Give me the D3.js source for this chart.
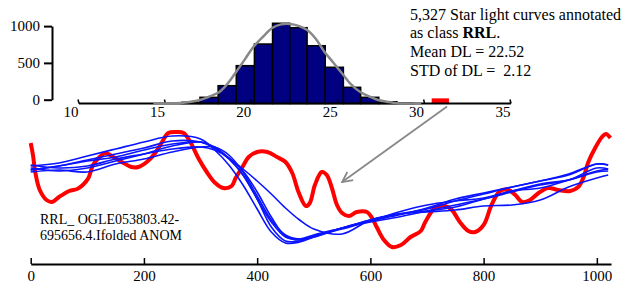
<!DOCTYPE html>
<html>
<head>
<meta charset="utf-8">
<script src="https://cdn.jsdelivr.net/npm/d3@7"></script>
<style>
  body { margin: 0; background: #fff; }
</style>
</head>
<body>
<div id="chart"></div>
<script>
// Histogram of DL values (bin edges in DL units, counts per bin)
const binEdges = [15.95, 17.0, 18.05, 19.1, 20.15, 21.2, 22.2, 23.2, 24.25, 25.3, 26.3, 27.35, 28.4, 29.35];
const binCounts = [16, 84, 242, 514, 808, 1090, 1030, 785, 492, 220, 84, 24, 7];
// the selected curve's bin, drawn in red
const selectedBin = [30.41, 31.41];
const selectedCount = 70;

// fitted normal curve
const fitDL    = [14.3, 15.0, 15.9, 16.4, 17.0, 17.5, 18.1, 18.6, 19.1, 19.6, 20.1, 20.7, 21.2, 21.7, 22.2, 22.7, 23.2, 23.7, 24.2, 24.7, 25.3, 25.7, 26.3, 26.8, 27.3, 27.8, 28.4, 29.8];
const fitCount = [0, 1, 7, 20, 48, 90, 152, 270, 432, 600, 772, 920, 1030, 1075, 1080, 1055, 999, 880, 704, 560, 387, 270, 152, 95, 48, 25, 3, 0];

const histXTicks = [10, 15, 20, 25, 30, 35];
const histYTicks = [0, 500, 1000];

const noteLines = ["5,327 Star light curves annotated", "as class |RRL|.", "Mean DL = 22.52", "STD of DL =  2.12"];

// Folded light curves
const redPhase = [0, 4, 8, 16, 28, 38, 50, 68, 82, 92, 102, 110, 120, 132, 143, 161, 178, 190, 205, 220, 232, 243, 258, 270, 282, 296, 311, 326, 340, 355, 362, 374, 385, 400, 418, 435, 450, 462, 473, 486, 493, 502, 514, 523, 532, 541, 550, 562, 576, 594, 603, 612, 624, 638, 654, 671, 689, 697, 714, 732, 744, 758, 773, 785, 800, 814, 829, 844, 856, 868, 882, 897, 914, 932, 953, 967, 976, 985, 997, 1009, 1016, 1024];
const redAnom  = [5.2, 4.0, 2.3, 0.5, -0.5, -0.7, -0.2, 0.4, 0.6, 1.0, 1.7, 3.0, 3.7, 4.2, 3.9, 3.3, 2.8, 2.8, 3.3, 4.2, 5.3, 6.2, 6.3, 6.2, 5.3, 3.7, 2.3, 1.2, 0.7, 0.9, 1.7, 2.8, 3.8, 4.3, 4.3, 3.8, 3.3, 2.2, 0.3, -1.1, -0.8, 1.0, 2.3, 2.0, 0.7, -1.0, -1.8, -2.1, -1.7, -1.7, -2.3, -3.3, -4.5, -5.2, -5.0, -4.2, -3.6, -2.7, -1.3, -1.1, -1.5, -2.7, -3.6, -3.7, -3.0, -1.0, 0.4, 0.5, 0.0, -0.7, -0.5, 0.2, 0.7, 0.5, 0.4, 0.8, 1.7, 3.3, 4.7, 5.8, 6.1, 5.7];

const bluePhase = [0, 50, 100, 150, 200, 250, 300, 325, 350, 375, 400, 425, 450, 475, 500, 550, 600, 650, 700, 750, 800, 850, 900, 950, 1000, 1020];
const blueA = [2.9, 3.2, 3.9, 4.6, 5.3, 5.9, 5.6, 4.5, 3.0, 1.0, -1.4, -3.7, -4.8, -4.7, -4.2, -3.3, -2.5, -1.9, -1.4, -0.6, 0.1, 0.8, 1.4, 2.1, 3.1, 3.0];
const blueB = [2.5, 2.9, 3.5, 4.1, 4.7, 5.4, 5.3, 4.7, 3.6, 2.0, -0.4, -3.2, -4.6, -4.6, -4.1, -3.4, -2.6, -2.0, -1.3, -0.4, 0.2, 0.8, 1.4, 2.0, 3.1, 3.0];
const blueC = [2.7, 2.4, 2.7, 3.4, 4.1, 4.9, 5.3, 4.7, 3.7, 2.0, -0.4, -2.7, -4.2, -4.4, -4.0, -3.3, -2.6, -1.7, -1.0, -0.6, -0.3, 0.4, 1.1, 1.5, 2.3, 2.4];
const blueD = [2.3, 2.5, 2.3, 3.1, 3.6, 4.3, 4.8, 4.8, 4.0, 2.3, -0.1, -2.5, -4.0, -4.4, -4.2, -3.3, -2.5, -1.9, -1.6, -1.2, -0.4, 0.4, 0.7, 1.5, 2.4, 2.6];
const blueE = [3.0, 2.7, 2.9, 3.6, 4.1, 4.6, 4.8, 4.5, 3.7, 2.4, 0.3, -2.2, -4.1, -4.5, -4.1, -3.3, -2.7, -2.2, -1.6, -1.0, -0.4, 0.3, 1.0, 1.5, 2.7, 2.6];
const blueF = [2.5, 2.9, 3.4, 3.8, 4.5, 5.1, 5.3, 4.8, 3.7, 2.6, 1.4, 0.1, -1.3, -2.5, -3.4, -3.9, -2.5, -1.9, -1.7, -1.5, -1.1, -1.0, -0.5, 0.8, 1.7, 2.0];
const blueCurves = [blueA, blueB, blueC, blueD, blueE, blueF];

const phaseTicks = [0, 200, 400, 600, 800, 1000];
const curveLabel = ["RRL_ OGLE053803.42-", "695656.4.Ifolded ANOM"];

const width = 627, height = 283;
const serif = "'Liberation Serif', 'Times New Roman', serif";

const svg = d3.select("#chart").append("svg")
  .attr("width", width)
  .attr("height", height)
  .style("font-family", serif);

// ---------- histogram ----------
const xh = d3.scaleLinear().domain([10, 35]).range([79, 511]);
const yh = d3.scaleLinear().domain([0, 1000]).range([103.5, 29.9]);

const bins = binCounts.map((c, i) => ({ x0: binEdges[i], x1: binEdges[i + 1], count: c }));

svg.append("g").selectAll("rect")
  .data(bins)
  .join("rect")
    .attr("x", d => xh(d.x0))
    .attr("y", d => yh(d.count))
    .attr("width", d => xh(d.x1) - xh(d.x0))
    .attr("height", d => yh(0) - yh(d.count))
    .attr("fill", "#000080")
    .attr("stroke", "#000")
    .attr("stroke-width", 1.5);

svg.append("rect")
  .attr("x", xh(selectedBin[0]))
  .attr("y", yh(selectedCount))
  .attr("width", xh(selectedBin[1]) - xh(selectedBin[0]))
  .attr("height", yh(0) - yh(selectedCount))
  .attr("fill", "#ff0000");

// x axis of histogram: ticks point up, labels sit a little left of the ticks
const hx = svg.append("g").attr("transform", `translate(0,${yh(0)})`);
hx.append("line")
  .attr("x1", xh(10)).attr("x2", xh(35))
  .attr("stroke", "#000").attr("stroke-width", 2);
hx.selectAll("line.tick")
  .data(histXTicks)
  .join("line")
    .attr("class", "tick")
    .attr("x1", d => xh(d)).attr("x2", d => xh(d) - 1)
    .attr("y1", 0).attr("y2", -4)
    .attr("stroke", "#000").attr("stroke-width", 1.5);
hx.selectAll("text")
  .data(histXTicks)
  .join("text")
    .attr("x", d => xh(d) - 8)
    .attr("y", 13.5)
    .attr("text-anchor", "middle")
    .style("font-family", serif)
    .style("font-size", "15px")
    .text(d => d);

// fitted curve
svg.append("path")
  .datum(fitDL.map((d, i) => [d, fitCount[i]]))
  .attr("fill", "none")
  .attr("stroke", "#888")
  .attr("stroke-width", 2.5)
  .attr("d", d3.line().x(d => xh(d[0])).y(d => yh(d[1])).curve(d3.curveCatmullRom));

// y axis (sits a few pixels above the bar baseline in the original)
const hy = svg.append("g")
  .attr("transform", "translate(52,-3.8)")
  .call(d3.axisLeft(yh).tickValues(histYTicks).tickFormat(d3.format("d"))
    .tickSize(8).tickSizeOuter(0).tickPadding(4));
hy.select(".domain").attr("stroke-width", 2);
hy.selectAll(".tick line").attr("stroke-width", 2);
hy.selectAll(".tick text").style("font-family", serif).style("font-size", "15px");

// annotation
const note = svg.append("text").attr("x", 410)
  .style("font-family", serif).style("font-size", "16px");
noteLines.forEach((line, i) => {
  const t = note.append("tspan").attr("x", 410).attr("y", [20, 37.5, 56.7, 76][i])
    .style("white-space", "pre");
  line.split("|").forEach((part, j) => {
    t.append("tspan").style("font-weight", j % 2 ? "bold" : "normal").text(part);
  });
});

// ---------- light curves ----------
const xl = d3.scaleLinear().domain([0, 1025]).range([30.7, 611]);
const yl = d3.scaleLinear().domain([-6, 6]).range([255, 135]);

const lc = d3.line().x(d => xl(d[0])).y(d => yl(d[1])).curve(d3.curveCatmullRom);

svg.append("path")
  .datum(redPhase.map((p, i) => [p, redAnom[i]]))
  .attr("fill", "none")
  .attr("stroke", "#ff0000")
  .attr("stroke-width", 4)
  .attr("stroke-linejoin", "round")
  .attr("d", lc);

svg.append("g").selectAll("path")
  .data(blueCurves)
  .join("path")
    .attr("fill", "none")
    .attr("stroke", "#0a14ff")
    .attr("stroke-width", 1.6)
    .attr("d", vals => lc(bluePhase.map((p, i) => [p, vals[i]])));

const ax = svg.append("g")
  .attr("transform", "translate(0,264)")
  .call(d3.axisBottom(xl).tickValues(phaseTicks).tickFormat(d3.format("d"))
    .tickSizeInner(-6).tickSizeOuter(0).tickPadding(6));
ax.select(".domain").attr("stroke-width", 2);
ax.selectAll(".tick line").attr("stroke-width", 1.5);
ax.selectAll(".tick text").style("font-family", serif).style("font-size", "15px");

svg.append("g").selectAll("text")
  .data(curveLabel)
  .join("text")
    .attr("x", 40)
    .attr("y", (d, i) => 224 + i * 16)
    .style("font-family", serif)
    .style("font-size", "14px")
    .text(d => d);

// arrow from the red bin down to the red curve
svg.append("defs").append("marker")
  .attr("id", "head")
  .attr("viewBox", "0 0 10 10")
  .attr("refX", 9).attr("refY", 5)
  .attr("markerWidth", 7).attr("markerHeight", 7)
  .attr("orient", "auto")
  .append("path")
    .attr("d", "M1,1 L9,5 L1,9")
    .attr("fill", "none")
    .attr("stroke", "#888")
    .attr("stroke-width", 1.4);

svg.append("line")
  .attr("x1", xh(31.3)).attr("y1", yh(0) + 3)
  .attr("x2", xl(550)).attr("y2", yl(1.3))
  .attr("stroke", "#888")
  .attr("stroke-width", 1.8)
  .attr("marker-end", "url(#head)");
</script>
</body>
</html>
